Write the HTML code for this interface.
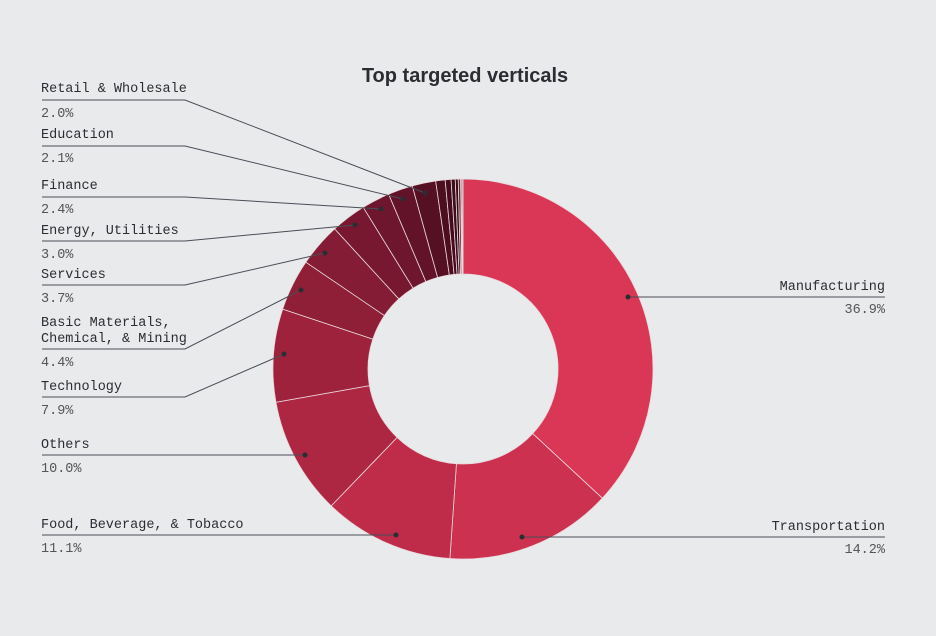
<!DOCTYPE html>
<html><head><style>
body{margin:0;background:#e9eaec;}
svg{display:block}
.t{font-family:"Liberation Mono",monospace;font-size:13.5px;fill:#2b2d33}
.p{font-family:"Liberation Mono",monospace;font-size:13.5px;fill:#555}
</style></head><body>
<svg id="s" width="936" height="636" viewBox="0 0 936 636" xmlns="http://www.w3.org/2000/svg">
<rect width="936" height="636" fill="#e9eaec"/>
<text x="465" y="82" text-anchor="middle" font-family="Liberation Sans,sans-serif" font-weight="bold" font-size="20" fill="#2b2d33">Top targeted verticals</text>
<g id="pie"></g>
<g stroke="#4a4d57" stroke-width="1" fill="none">
<polyline points="885,297 628,297"/>
<polyline points="885,537 522,537"/>
<polyline points="42,100 185,100 425,193"/>
<polyline points="42,146 185,146 403,199"/>
<polyline points="42,197 185,197 381,209"/>
<polyline points="42,241 185,241 355,225"/>
<polyline points="42,285 185,285 325,253"/>
<polyline points="42,349 185,349 301,290"/>
<polyline points="42,397 185,397 284,354"/>
<polyline points="42,455 185,455 305,455"/>
<polyline points="42,535 185,535 396,535"/>
</g>
<g fill="#2b2d33">
<circle cx="628" cy="297" r="2.5"/><circle cx="522" cy="537" r="2.5"/><circle cx="425" cy="193" r="2.5"/><circle cx="403" cy="199" r="2.5"/><circle cx="381" cy="209" r="2.5"/><circle cx="355" cy="225" r="2.5"/><circle cx="325" cy="253" r="2.5"/><circle cx="301" cy="290" r="2.5"/><circle cx="284" cy="354" r="2.5"/><circle cx="305" cy="455" r="2.5"/><circle cx="396" cy="535" r="2.5"/>
</g>
<text class="t" x="885" y="290" text-anchor="end">Manufacturing</text>
<text class="p" x="885" y="313" text-anchor="end">36.9%</text>
<text class="t" x="885" y="530" text-anchor="end">Transportation</text>
<text class="p" x="885" y="553" text-anchor="end">14.2%</text>
<text class="t" x="41" y="92">Retail &amp; Wholesale</text><text class="p" x="41" y="117">2.0%</text>
<text class="t" x="41" y="138">Education</text><text class="p" x="41" y="162">2.1%</text>
<text class="t" x="41" y="189">Finance</text><text class="p" x="41" y="213">2.4%</text>
<text class="t" x="41" y="234">Energy, Utilities</text><text class="p" x="41" y="258">3.0%</text>
<text class="t" x="41" y="278">Services</text><text class="p" x="41" y="302">3.7%</text>
<text class="t" x="41" y="326">Basic Materials,</text><text class="t" x="41" y="342">Chemical, &amp; Mining</text><text class="p" x="41" y="366">4.4%</text>
<text class="t" x="41" y="390">Technology</text><text class="p" x="41" y="414">7.9%</text>
<text class="t" x="41" y="448">Others</text><text class="p" x="41" y="472">10.0%</text>
<text class="t" x="41" y="528">Food, Beverage, &amp; Tobacco</text><text class="p" x="41" y="552">11.1%</text>
</svg>
<script>
var d=[[36.9,"#da3656"],[14.2,"#cd3150"],[11.1,"#bf2c4a"],[10.0,"#ad2642"],[7.9,"#9f223d"],[4.4,"#8e1f37"],[3.7,"#831c34"],[3.0,"#781830"],[2.4,"#6d162d"],[2.1,"#62132a"],[2.0,"#551024"],[0.8,"#4d0e20"],[0.5,"#460c1d"],[0.35,"#400b1b"],[0.25,"#3a0a19"],[0.2,"#5a2a35"],[0.1,"#7a4a55"],[0.1,"#9a7a80"]];
var cx=463,cy=369,R=190,r=95,a=0,g=document.getElementById("pie"),h="";
function P(rad,ang){return (cx+rad*Math.sin(ang)).toFixed(2)+","+(cy-rad*Math.cos(ang)).toFixed(2);}
d.forEach(function(e){var s=a*Math.PI*2/100;a+=e[0];var t=a*Math.PI*2/100;var l=(t-s)>Math.PI?1:0;
h+='<path d="M'+P(R,s)+' A'+R+','+R+' 0 '+l+' 1 '+P(R,t)+' L'+P(r,t)+' A'+r+','+r+' 0 '+l+' 0 '+P(r,s)+' Z" fill="'+e[1]+'" stroke="#e9d9dc" stroke-width="0.8"/>';});
g.innerHTML=h;
</script>
</body></html>
